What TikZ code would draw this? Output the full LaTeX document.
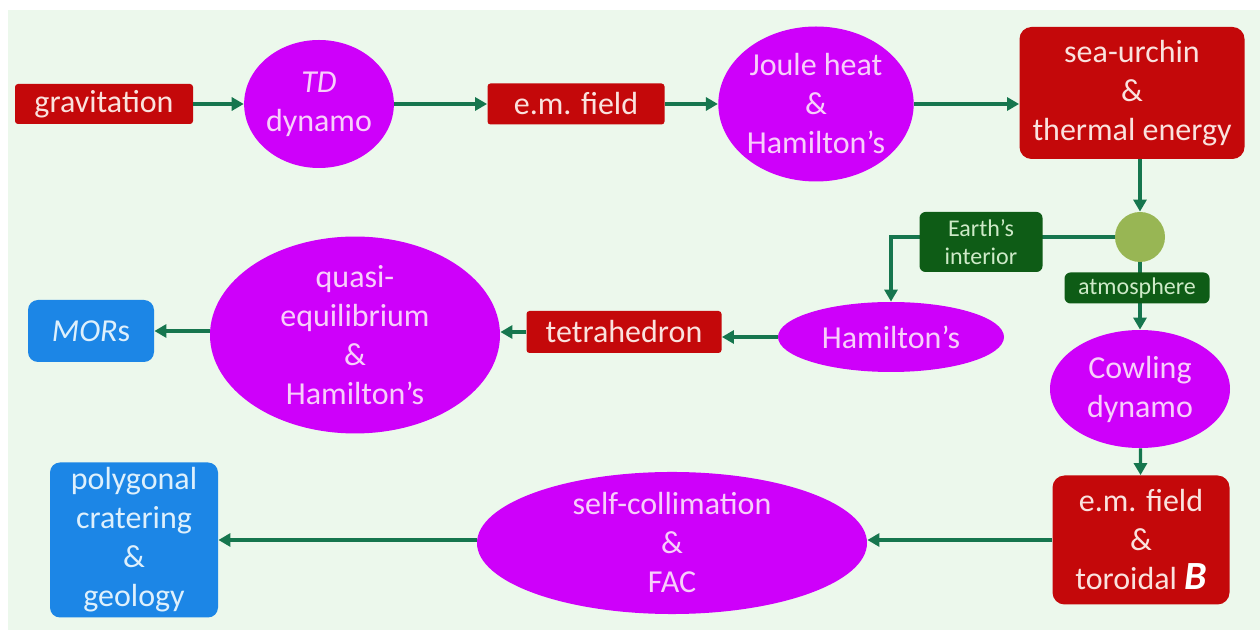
\documentclass[tikz,border=0pt]{standalone}
\usepackage{fontspec}
\setmainfont{Carlito}
\usetikzlibrary{shapes.geometric,arrows.meta,positioning}

\definecolor{bgcol}{RGB}{236,248,236}
\definecolor{boxred}{RGB}{196,8,10}
\definecolor{redtxt}{RGB}{250,226,222}
\definecolor{ovalmag}{RGB}{206,0,250}
\definecolor{magtxt}{RGB}{248,206,250}
\definecolor{boxblue}{RGB}{28,134,230}
\definecolor{bluetxt}{RGB}{222,240,252}
\definecolor{boxgreen}{RGB}{14,92,22}
\definecolor{greentxt}{RGB}{206,234,200}
\definecolor{olive}{RGB}{152,182,84}
\definecolor{flowcol}{RGB}{22,118,78}

\begin{document}
\begin{tikzpicture}[x=0.5pt,y=-0.5pt,
  every node/.style={font=\fontsize{16}{19.5}\selectfont,align=center,inner sep=0pt},
  redbox/.style={rectangle,fill=boxred,text=redtxt,rounded corners=1.5pt},
  bigred/.style={redbox,rounded corners=6pt},
  oval/.style={ellipse,fill=ovalmag,text=magtxt},
  bluebox/.style={rectangle,fill=boxblue,text=bluetxt,rounded corners=5pt},
  tag/.style={rectangle,fill=boxgreen,text=greentxt,rounded corners=3pt,font=\fontsize{12}{14}\selectfont},
  flow/.style={draw=flowcol,line width=1.6pt,-{Triangle[length=6pt,width=6.5pt]}},
  link/.style={draw=flowcol,line width=1.6pt}]

\useasboundingbox (0,0) rectangle (1260,630);
\fill[white] (0,0) rectangle (1260,630);
\fill[bgcol] (8,10) rectangle (1260,630);

% top row
\node[redbox,minimum width=89pt,minimum height=20pt] (grav) at (104,104) {gravitation};
\node[oval,minimum width=67.5pt,minimum height=64pt] (td) at (319,104) {\textit{TD}\\dynamo};
\node[redbox,minimum width=88.5pt,minimum height=20.5pt] (em) at (576,104) {e.m. field};
\node[oval,minimum width=96pt,minimum height=77.5pt] (joule) at (816,104) {Joule heat\\\&\\Hamilton’s};
\node[bigred,minimum width=112.5pt,minimum height=66pt] (urchin) at (1132,93) {sea-urchin\\\&\\thermal energy};

% branching point
\node[circle,fill=olive,minimum size=25pt] (fork) at (1140,237) {};

% middle row
\node[oval,minimum width=113pt,minimum height=35pt] (ham) at (891,337) {Hamilton’s};
\node[redbox,minimum width=97.5pt,minimum height=21pt] (tetra) at (624,332) {tetrahedron};
\node[oval,minimum width=145pt,minimum height=77pt] (quasi) at (355,335) {quasi-\\equilibrium\\\&\\Hamilton’s};
\node[bluebox,minimum width=63pt,minimum height=31pt] (mors) at (91,331) {\textit{MOR}s};
\node[oval,minimum width=90pt,minimum height=59pt] (cowl) at (1140,389) {Cowling\\dynamo};

% bottom row
\node[bigred,minimum width=88.5pt,minimum height=64.5pt] (emB) at (1141,540) {e.m. field\\\&\\toroidal {\fontsize{20}{19.5}\selectfont\bfseries\itshape\color{white}B}};
\node[oval,minimum width=195pt,minimum height=57.5pt] (selfc) at (672,543) {self-collimation\\\&\\FAC};
\node[bluebox,minimum width=84pt,minimum height=77.5pt] (poly) at (134,540) {polygonal\\cratering\\\&\\geology};

% connectors
\draw[flow] (grav) -- (td);
\draw[flow] (td) -- (em);
\draw[flow] (em) -- (joule);
\draw[flow] (joule) -- (urchin.west |- joule);
\draw[flow] (urchin.south -| fork) -- (fork.north);
\draw[flow] (fork.west) -| (ham.north);
\draw[flow] (fork.south) -- (cowl.north);
\draw[flow] (ham) -- (tetra.east |- ham);
\draw[flow] (tetra) -- (quasi.east |- tetra);
\draw[flow] (quasi.west |- mors) -- (mors);
\draw[flow] (cowl) -- (emB);
\draw[flow] (emB) -- (selfc.east |- emB);
\draw[flow] (selfc.west |- poly) -- (poly);

% branch labels
\node[tag,minimum width=61.5pt,minimum height=30pt] (earth) at (981,242) {Earth’s\\interior};
\node[tag,minimum width=72.5pt,minimum height=15.5pt] (atm) at (1137,288) {atmosphere};
\end{tikzpicture}
\end{document}
